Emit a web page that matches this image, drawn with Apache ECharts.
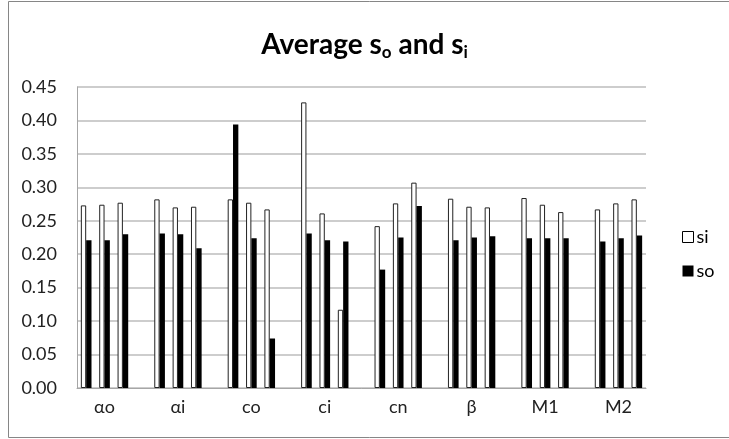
<!DOCTYPE html>
<html>
<head>
<meta charset="utf-8">
<script src="https://cdn.jsdelivr.net/npm/echarts@6/dist/echarts.min.js"></script>
<style>html,body{margin:0;padding:0;background:#fff}#c{width:729px;height:439px}</style>
</head>
<body>
<div id="c"></div>
<script>
// ---- data ----
const groups = ['αo', 'αi', 'co', 'ci', 'cn', 'β', 'M1', 'M2'];
// three sub-bars per group
const siValues = [
  [0.273, 0.274, 0.277],
  [0.282, 0.270, 0.271],
  [0.282, 0.277, 0.267],
  [0.427, 0.261, 0.117],
  [0.242, 0.276, 0.307],
  [0.283, 0.271, 0.270],
  [0.284, 0.274, 0.263],
  [0.267, 0.276, 0.282]
];
const soValues = [
  [0.221, 0.221, 0.230],
  [0.231, 0.230, 0.209],
  [0.394, 0.224, 0.074],
  [0.231, 0.221, 0.219],
  [0.177, 0.225, 0.272],
  [0.221, 0.225, 0.227],
  [0.224, 0.224, 0.224],
  [0.219, 0.224, 0.228]
];
const yTicks = ['0.00','0.05','0.10','0.15','0.20','0.25','0.30','0.35','0.40','0.45'];

// ---- build flat category axis: 3 slots per group, one blank slot between groups ----
const cats = [], siData = [], soData = [];
groups.forEach((g, gi) => {
  for (let k = 0; k < 3; k++) {
    cats.push(k === 1 ? g : ' ' + gi + '_' + k);
    siData.push(siValues[gi][k]);
    soData.push(soValues[gi][k]);
  }
  if (gi < groups.length - 1) {
    cats.push(' gap' + gi);
    siData.push(null);
    soData.push(null);
  }
});

const FONT = 'Lato, "Noto Sans", sans-serif';
const chart = echarts.init(document.getElementById('c'), null, {renderer: 'canvas'});
chart.setOption({
  animation: false,
  backgroundColor: '#fff',
  textStyle: {fontFamily: FONT},
  title: {
    text: 'Average s{sub|o} and s{sub|i}',
    left: 'center',
    top: 26,
    textStyle: {
      fontFamily: FONT,
      fontSize: 28,
      fontWeight: 'bold',
      color: '#000',
      rich: {
        sub: {fontFamily: FONT, fontSize: 17, fontWeight: 'bold', color: '#000', verticalAlign: 'bottom', padding: [0, 0, -2, 0]}
      }
    }
  },
  graphic: [{
    type: 'rect',
    shape: {x: 8.5, y: 1.5, width: 740, height: 436},
    style: {fill: 'none', stroke: '#868686', lineWidth: 1},
    silent: true
  }],
  legend: {
    orient: 'vertical',
    left: 677,
    top: 223,
    itemWidth: 11,
    itemHeight: 11,
    itemGap: 16,
    textStyle: {fontFamily: FONT, fontSize: 18, color: '#000', padding: [0, 0, 0, -2]},
    data: [
      {name: 'si', icon: 'rect', itemStyle: {color: '#fff', borderColor: '#000', borderWidth: 1}},
      {name: 'so', icon: 'rect', itemStyle: {color: '#000', borderColor: '#000', borderWidth: 0}}
    ]
  },
  grid: {left: 77, right: 83, top: 87, bottom: 51, containLabel: false},
  xAxis: {
    type: 'category',
    data: cats,
    axisLine: {lineStyle: {color: '#a6a6a6', width: 1}},
    axisTick: {show: false},
    axisLabel: {
      interval: 0,
      margin: 10,
      fontFamily: FONT,
      fontSize: 18,
      color: '#222',
      formatter: v => (groups.indexOf(v) >= 0 ? v : '')
    },
    splitLine: {show: false}
  },
  yAxis: {
    type: 'value',
    min: 0,
    max: 0.45,
    interval: 0.05,
    axisLine: {show: true, lineStyle: {color: '#a6a6a6', width: 1}},
    axisTick: {show: false},
    axisLabel: {
      margin: 20,
      fontFamily: FONT,
      fontSize: 18,
      color: '#222',
      formatter: v => yTicks[Math.round(v / 0.05)]
    },
    splitLine: {lineStyle: {color: '#bcbcbc', width: 1.5}}
  },
  series: [
    {
      name: 'si',
      type: 'bar',
      data: siData,
      barGap: '0%',
      barCategoryGap: '42%',
      itemStyle: {color: '#fff', borderColor: '#222', borderWidth: 1}
    },
    {
      name: 'so',
      type: 'bar',
      data: soData,
      barGap: '0%',
      barCategoryGap: '42%',
      itemStyle: {color: '#000'}
    }
  ]
});
</script>
</body>
</html>
